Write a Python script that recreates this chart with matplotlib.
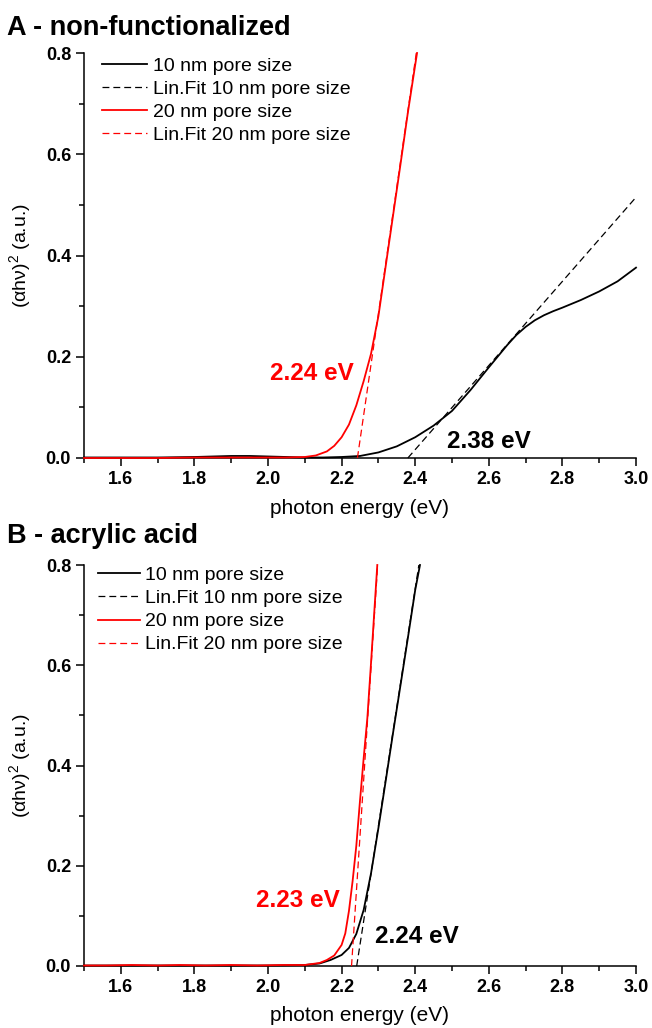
import matplotlib
matplotlib.use("Agg")
import matplotlib.pyplot as plt
from matplotlib.ticker import MultipleLocator

plt.rcParams['font.family'] = ['Liberation Sans', 'DejaVu Sans']
plt.rcParams['mathtext.fontset'] = 'custom'
plt.rcParams['mathtext.rm'] = 'Liberation Sans'
plt.rcParams['mathtext.it'] = 'Liberation Sans:italic'

# ---------------- Panel A: non-functionalized ----------------
a10_x = [1.50, 1.60, 1.70, 1.80, 1.85, 1.90, 1.95, 2.00, 2.05, 2.10, 2.15, 2.20,
         2.25, 2.30, 2.35, 2.40, 2.45, 2.50, 2.55, 2.60, 2.65, 2.675, 2.70, 2.725,
         2.75, 2.775, 2.80, 2.85, 2.90, 2.95, 3.00]
a10_y = [0.001, 0.001, 0.001, 0.002, 0.003, 0.004, 0.004, 0.003, 0.002, 0.001, 0.001, 0.002,
         0.004, 0.011, 0.023, 0.041, 0.064, 0.093, 0.134, 0.179, 0.223, 0.243, 0.259, 0.272,
         0.282, 0.290, 0.297, 0.312, 0.329, 0.349, 0.376]
a10_fit_x = [2.38, 3.00]
a10_fit_y = [0.0, 0.515]

a20_x = [1.50, 1.60, 1.70, 1.80, 1.90, 2.00, 2.05, 2.10, 2.13, 2.16, 2.18, 2.20,
         2.22, 2.24, 2.26, 2.28, 2.30, 2.32, 2.34, 2.36, 2.38, 2.405]
a20_y = [0.000, 0.000, 0.000, 0.001, 0.001, 0.001, 0.001, 0.002, 0.005, 0.013, 0.024, 0.041,
         0.066, 0.104, 0.152, 0.206, 0.280, 0.380, 0.480, 0.580, 0.682, 0.800]
a20_fit_x = [2.243, 2.403]
a20_fit_y = [0.0, 0.8]

# ---------------- Panel B: acrylic acid ----------------
b10_x = [1.50, 1.60, 1.70, 1.80, 1.90, 2.00, 2.10, 2.14, 2.17, 2.20, 2.22, 2.24,
         2.26, 2.28, 2.30, 2.32, 2.34, 2.36, 2.38, 2.40, 2.413]
b10_y = [0.001, 0.001, 0.001, 0.001, 0.001, 0.001, 0.002, 0.005, 0.012, 0.022, 0.036, 0.064,
         0.112, 0.185, 0.275, 0.370, 0.466, 0.560, 0.654, 0.750, 0.800]
b10_fit_x = [2.241, 2.41]
b10_fit_y = [0.0, 0.8]

b20_x = [1.50, 1.56, 1.63, 1.70, 1.76, 1.83, 1.90, 1.97, 2.04, 2.10, 2.14, 2.16,
         2.18, 2.20, 2.21, 2.22, 2.23, 2.24, 2.25, 2.26, 2.27, 2.28, 2.29, 2.297]
b20_y = [0.001, 0.001, 0.002, 0.001, 0.002, 0.001, 0.002, 0.001, 0.002, 0.002, 0.006, 0.012,
         0.021, 0.042, 0.065, 0.110, 0.170, 0.240, 0.330, 0.415, 0.495, 0.605, 0.720, 0.800]
b20_fit_x = [2.227, 2.298]
b20_fit_y = [0.0, 0.8]

series_labels = ["10 nm pore size", "Lin.Fit 10 nm pore size",
                 "20 nm pore size", "Lin.Fit 20 nm pore size"]
x_ticks = [1.6, 1.8, 2.0, 2.2, 2.4, 2.6, 2.8, 3.0]
y_ticks = [0.0, 0.2, 0.4, 0.6, 0.8]

RED = '#ff0000'
BLK = '#000000'

fig = plt.figure(figsize=(6.52, 10.28), dpi=100)
W, H = 652, 1028
axA = fig.add_axes([84 / W, 1 - 458 / H, 552 / W, 405 / H])
axB = fig.add_axes([84 / W, 1 - 966 / H, 552 / W, 401 / H])


def style(ax):
    ax.set_xlim(1.5, 3.0)
    ax.set_ylim(0.0, 0.8)
    for s in ['top', 'right']:
        ax.spines[s].set_visible(False)
    for s in ['left', 'bottom']:
        ax.spines[s].set_linewidth(1.1)
    ax.set_xticks(x_ticks)
    ax.set_xticklabels([f"{v:.1f}" for v in x_ticks])
    ax.set_yticks(y_ticks)
    ax.set_yticklabels([f"{v:.1f}" for v in y_ticks])
    ax.xaxis.set_minor_locator(MultipleLocator(0.1))
    ax.yaxis.set_minor_locator(MultipleLocator(0.1))
    ax.tick_params(which='major', direction='out', length=5.8, width=1.1,
                   labelsize=13, pad=3.5)
    ax.tick_params(which='minor', direction='out', length=3.5, width=1.1)
    for lab in ax.get_xticklabels() + ax.get_yticklabels():
        lab.set_fontweight('bold')
    ax.set_xlabel("photon energy (eV)", fontsize=15)
    ax.xaxis.set_label_coords(0.5, -0.1)
    ax.set_ylabel("(αhν)$^{2}$ (a.u.)", fontsize=14)
    ax.yaxis.set_label_coords(-0.092, 0.5)


def draw(ax, d):
    kw_s = dict(lw=1.3, zorder=3, clip_on=False)
    kw_d = dict(lw=0.9, dashes=(5.5, 3.2), zorder=3, clip_on=False)
    ax.plot(d[0], d[1], color=BLK, label=series_labels[0], **kw_s)
    ax.plot(d[2], d[3], color=BLK, label=series_labels[1], **kw_d)
    ax.plot(d[4], d[5], color=RED, label=series_labels[2], **kw_s)
    ax.plot(d[6], d[7], color=RED, label=series_labels[3], **kw_d)


draw(axA, [a10_x, a10_y, a10_fit_x, a10_fit_y, a20_x, a20_y, a20_fit_x, a20_fit_y])
draw(axB, [b10_x, b10_y, b10_fit_x, b10_fit_y, b20_x, b20_y, b20_fit_x, b20_fit_y])

for ax in (axA, axB):
    style(ax)

axA.legend(loc='upper left', bbox_to_anchor=(0.033, 0.99), frameon=False, fontsize=14,
           handlelength=2.3, handletextpad=0.3, borderpad=0, borderaxespad=0,
           labelspacing=0.28)
axB.legend(loc='upper left', bbox_to_anchor=(0.025, 0.996), frameon=False, fontsize=14,
           handlelength=2.15, handletextpad=0.3, borderpad=0, borderaxespad=0,
           labelspacing=0.28)

axA.text(2.12, 0.154, "2.24 eV", color=RED, fontsize=17.5, fontweight='bold',
         ha='center', va='baseline')
axA.text(2.60, 0.020, "2.38 eV", color=BLK, fontsize=17.5, fontweight='bold',
         ha='center', va='baseline')
axB.text(2.082, 0.118, "2.23 eV", color=RED, fontsize=17.5, fontweight='bold',
         ha='center', va='baseline')
axB.text(2.404, 0.045, "2.24 eV", color=BLK, fontsize=17.5, fontweight='bold',
         ha='center', va='baseline')

fig.text(7 / W, 1 - 35 / H, "A - non-functionalized", fontsize=19.5, fontweight='bold',
         ha='left', va='baseline')
fig.text(7 / W, 1 - 543 / H, "B - acrylic acid", fontsize=19.5, fontweight='bold',
         ha='left', va='baseline')

fig.savefig("out.png", dpi=100)
